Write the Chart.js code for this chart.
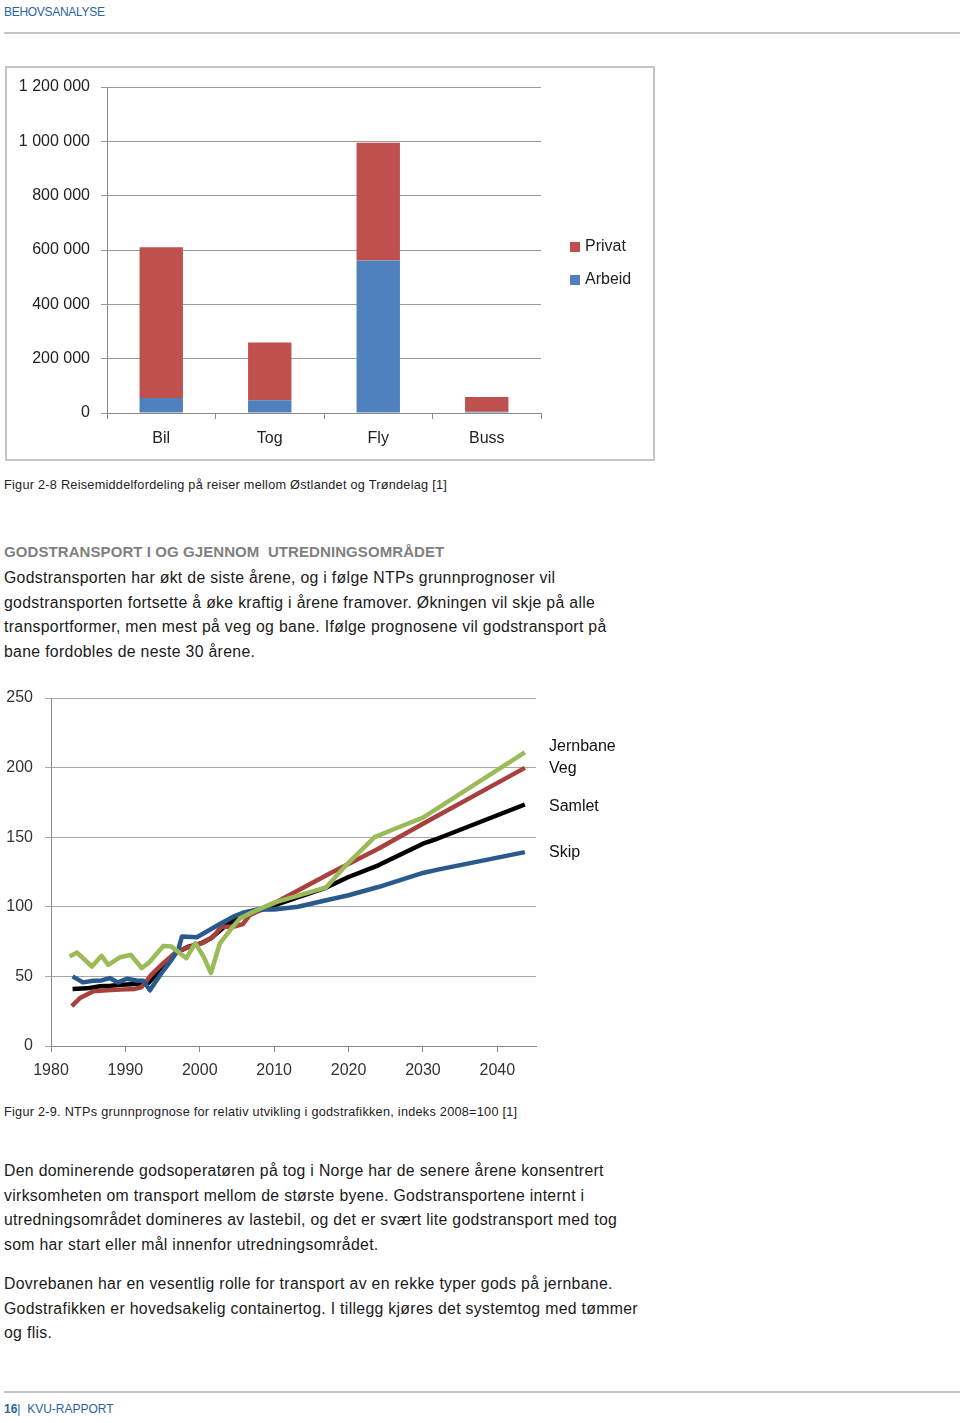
<!DOCTYPE html>
<html>
<head>
<meta charset="utf-8">
<script src="https://cdn.jsdelivr.net/npm/chart.js@4.4.0/dist/chart.umd.min.js"></script>
<style>
  body { margin: 0; background: #fff; font-family: "Liberation Sans", Arial, sans-serif; color: #222; }
  .page { position: relative; width: 960px; height: 1423px; overflow: hidden; }
  .abs { position: absolute; white-space: nowrap; }
  .rule { position: absolute; left: 4px; width: 956px; height: 2px; background: #c4c4c4; }
  .running { font-size: 12px; line-height: 14px; color: #2a64a0; letter-spacing: -0.3px; }
  .caption { font-size: 12.7px; line-height: 16px; color: #222; letter-spacing: 0.26px; }
  .body { font-size: 15.8px; line-height: 24.6px; color: #1a1a1a; letter-spacing: 0.32px; }
  .heading { font-size: 15px; line-height: 24px; color: #7f7f7f; font-weight: bold; letter-spacing: 0.08px; }
  .box { position: absolute; left: 5px; top: 66px; width: 646px; height: 391px; border: 2px solid #c4c4c4; }
</style>
</head>
<body>
<div class="page">
  <div class="abs running" style="left:4px; top:5px;">BEHOVSANALYSE</div>
  <div class="rule" style="top:32px;"></div>

  <div class="box"></div>
  <canvas id="tripChart" width="645" height="390" style="position:absolute; left:7px; top:68px;"></canvas>

  <div class="abs caption" style="left:4px; top:477px;">Figur 2-8 Reisemiddelfordeling på reiser mellom Østlandet og Trøndelag [1]</div>

  <div class="abs heading" style="left:4px; top:540px;">GODSTRANSPORT I OG GJENNOM&nbsp; UTREDNINGSOMRÅDET</div>
  <div class="abs body" style="left:4px; top:566px;">
    Godstransporten har økt de siste årene, og i følge NTPs grunnprognoser vil<br>
    godstransporten fortsette å øke kraftig i årene framover. Økningen vil skje på alle<br>
    transportformer, men mest på veg og bane. Ifølge prognosene vil godstransport på<br>
    bane fordobles de neste 30 årene.
  </div>

  <canvas id="freightChart" width="640" height="410" style="position:absolute; left:0; top:680px;"></canvas>

  <div class="abs caption" style="left:4px; top:1104px;">Figur 2-9. NTPs grunnprognose for relativ utvikling i godstrafikken, indeks 2008=100 [1]</div>

  <div class="abs body" style="left:4px; top:1159px;">
    Den dominerende godsoperatøren på tog i Norge har de senere årene konsentrert<br>
    virksomheten om transport mellom de største byene. Godstransportene internt i<br>
    utredningsområdet domineres av lastebil, og det er svært lite godstransport med tog<br>
    som har start eller mål innenfor utredningsområdet.
  </div>
  <div class="abs body" style="left:4px; top:1272px;">
    Dovrebanen har en vesentlig rolle for transport av en rekke typer gods på jernbane.<br>
    Godstrafikken er hovedsakelig containertog. I tillegg kjøres det systemtog med tømmer<br>
    og flis.
  </div>

  <div class="rule" style="top:1391px;"></div>
  <div class="abs running" style="left:4px; top:1402px; letter-spacing:0px;"><b>16</b>|&nbsp; KVU-RAPPORT</div>
</div>

<script>
// Figur 2-8: reiser per reisemiddel
const modes = ['Bil', 'Tog', 'Fly', 'Buss'];
const arbeid = [55000, 46500, 561000, 5000];
const privat = [555000, 213000, 433500, 54000];

// Figur 2-9: indeks 2008=100
const yearTicks = [1980, 1990, 2000, 2010, 2020, 2030, 2040];

const jernbaneYears = [1982.5, 1983.5, 1985.5, 1986.8, 1987.7, 1989.3, 1990.7, 1992.2, 1993.1, 1995.1, 1996.2, 1998.2, 1999.4, 2000.5, 2001.5, 2002.7, 2004.1, 2005.4, 2007.2, 2010, 2017, 2019.5, 2023.5, 2026, 2030, 2043.7];
const jernbane = [64.3, 67.1, 57.1, 64.8, 58.3, 63.8, 65.5, 56, 59.5, 71.9, 71.4, 63.1, 73.8, 64.3, 52.4, 73.8, 83.3, 91.7, 96.4, 103, 114, 129, 150, 155.5, 164, 211];

const vegYears = [1982.8, 1983.9, 1985.7, 1987.5, 1989.3, 1991.3, 1992.2, 1993.5, 1995.1, 1996.9, 1998.7, 2000.5, 2001.8, 2002.9, 2004.5, 2005.8, 2006.7, 2010, 2017.6, 2024, 2030, 2043.7];
const veg = [28.6, 34.5, 39.3, 40, 40.5, 41, 42.4, 51.2, 59.5, 67.9, 71.4, 74.3, 78.6, 85.7, 85.7, 87.6, 94, 102.5, 124.3, 141.7, 159.7, 199.8];

const samletYears = [1982.9, 1984.8, 1986.6, 1988, 1989.6, 1991.8, 1993.1, 1995.1, 1996.7, 1998.5, 2000.2, 2001.5, 2003.3, 2005.1, 2006.9, 2010, 2017, 2020, 2024, 2030, 2031.5, 2043.7];
const samlet = [41, 41.4, 42.9, 43.3, 44, 44.8, 45.2, 57, 66.7, 71.4, 73.8, 77.4, 85.7, 91.7, 95.2, 101, 113.8, 121.4, 129.8, 145.3, 148, 173.5];

const skipYears = [1982.9, 1984.3, 1985.7, 1986.8, 1987.9, 1989, 1990.2, 1991.5, 1992.4, 1993.3, 1994.7, 1996.2, 1997.1, 1997.6, 1999.6, 2000.9, 2002.7, 2004.5, 2005.8, 2007.6, 2010, 2013.2, 2017, 2020, 2024, 2030, 2032, 2043.7];
const skip = [50, 45.7, 46.9, 47.1, 48.8, 45.7, 48.3, 47.1, 46.9, 40, 51.2, 61.9, 69, 78.6, 78.1, 82.1, 87.6, 92.9, 95.7, 98, 98, 100, 104.7, 108.3, 114.2, 124.3, 126.7, 139.3];

const FONT = '"Liberation Sans", Arial, sans-serif';
const toPoints = (xs, ys) => xs.map((x, i) => ({ x: x, y: ys[i] }));

// fixed axis width, and no extra room reserved for half a tick label
const fixWidth = (w) => (s) => { s.width = w; s.paddingTop = 0; s.paddingBottom = 0; };

// legend to the right of the bar chart (Privat over Arbeid)
const sideLegend = {
  id: 'sideLegend',
  afterDraw(chart) {
    const ctx = chart.ctx;
    const x = chart.chartArea.right + 29;
    const mid = chart.height / 2;
    const items = [
      { text: 'Privat', color: '#C0504D', y: mid - 16 },
      { text: 'Arbeid', color: '#4F81BD', y: mid + 17 },
    ];
    ctx.save();
    ctx.font = '16px ' + FONT;
    ctx.textBaseline = 'middle';
    items.forEach(item => {
      ctx.fillStyle = item.color;
      ctx.fillRect(x, item.y - 5, 10, 10);
      ctx.fillStyle = '#222';
      ctx.fillText(item.text, x + 15, item.y);
    });
    ctx.restore();
  }
};

// series names next to the line ends
const endLabels = {
  id: 'endLabels',
  afterDraw(chart) {
    const ctx = chart.ctx;
    const yScale = chart.scales.y;
    const nudge = [-6, 1, 2, 0];
    ctx.save();
    ctx.font = '16px ' + FONT;
    ctx.fillStyle = '#111';
    ctx.textBaseline = 'middle';
    chart.data.datasets.forEach((ds, i) => {
      const last = ds.data[ds.data.length - 1];
      ctx.fillText(ds.label, chart.chartArea.right + 13, yScale.getPixelForValue(last.y) + nudge[i]);
    });
    ctx.restore();
  }
};

new Chart(document.getElementById('tripChart'), {
  type: 'bar',
  data: {
    labels: modes,
    datasets: [
      { label: 'Arbeid', data: arbeid, backgroundColor: '#4F81BD', stack: 's' },
      { label: 'Privat', data: privat, backgroundColor: '#C0504D', stack: 's' },
    ],
  },
  options: {
    responsive: false,
    animation: false,
    devicePixelRatio: 1,
    layout: { padding: { top: 19, right: 111, bottom: 0, left: 0 } },
    plugins: { legend: { display: false }, tooltip: { enabled: false } },
    datasets: { bar: { categoryPercentage: 1, barPercentage: 0.4 } },
    scales: {
      x: {
        stacked: true,
        afterFit: (s) => { s.height = 45; },
        grid: { drawOnChartArea: false, tickLength: 6, color: '#8a8a8a', offset: true },
        border: { color: '#8a8a8a' },
        ticks: { color: '#222', padding: 10, font: { family: FONT, size: 16 } },
      },
      y: {
        stacked: true,
        min: 0,
        max: 1200000,
        afterFit: fixWidth(100),
        grid: { color: '#9a9a9a', tickLength: 6 },
        border: { color: '#8a8a8a' },
        ticks: {
          stepSize: 200000,
          padding: 11,
          color: '#222',
          font: { family: FONT, size: 16 },
          callback: (v) => String(v).replace(/\B(?=(\d{3})+(?!\d))/g, ' '),
        },
      },
    },
  },
  plugins: [sideLegend],
});

new Chart(document.getElementById('freightChart'), {
  type: 'line',
  data: {
    datasets: [
      { label: 'Jernbane', data: toPoints(jernbaneYears, jernbane), borderColor: '#9BBB59', order: 1 },
      { label: 'Veg', data: toPoints(vegYears, veg), borderColor: '#A8403D', order: 3 },
      { label: 'Samlet', data: toPoints(samletYears, samlet), borderColor: '#000000', order: 4 },
      { label: 'Skip', data: toPoints(skipYears, skip), borderColor: '#2A5A8C', order: 2 },
    ],
  },
  options: {
    responsive: false,
    animation: false,
    devicePixelRatio: 1,
    layout: { padding: { top: 18, right: 104, bottom: 0, left: 0 } },
    elements: {
      line: { borderWidth: 4.5, tension: 0, borderJoinStyle: 'round', borderCapStyle: 'butt' },
      point: { radius: 0 },
    },
    plugins: { legend: { display: false }, tooltip: { enabled: false } },
    scales: {
      x: {
        type: 'linear',
        min: 1980,
        max: 2045.2,
        afterFit: (s) => { s.height = 44; },
        afterBuildTicks: (s) => { s.ticks = yearTicks.map(v => ({ value: v })); },
        grid: { drawOnChartArea: false, tickLength: 6, color: '#8a8a8a' },
        border: { color: '#8a8a8a' },
        ticks: { color: '#333', padding: 9, maxRotation: 0, font: { family: FONT, size: 16 }, callback: (v) => String(v) },
      },
      y: {
        min: 0,
        max: 250,
        afterFit: fixWidth(51),
        grid: { color: '#a6a6a6', tickLength: 6 },
        border: { color: '#8a8a8a' },
        ticks: { stepSize: 50, padding: 12, color: '#333', font: { family: FONT, size: 16 } },
      },
    },
  },
  plugins: [endLabels],
});
</script>
</body>
</html>
